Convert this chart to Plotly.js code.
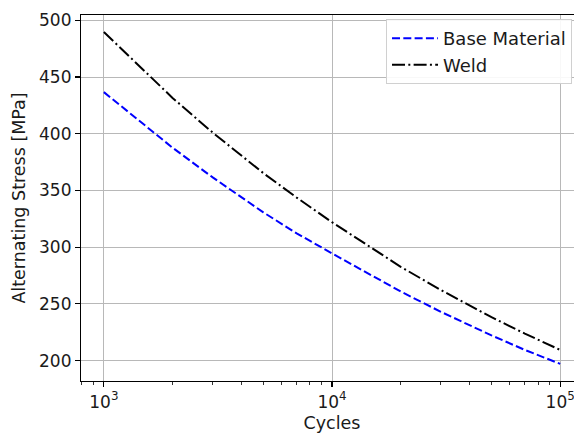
<!DOCTYPE html>
<html>
<head>
<meta charset="utf-8">
<script src="https://cdn.plot.ly/plotly-3.0.1.min.js"></script>
<style>
html,body{margin:0;padding:0;overflow:hidden;background:#fff;}
#chart{width:590px;height:433px;}
</style>
</head>
<body>
<div id="chart"></div>
<script>
const cycles = [1000, 2000, 3000, 5000, 7000, 10000, 20000, 30000, 50000, 70000, 100000];
const baseMaterial = [436.7, 387.7, 361.5, 330.7, 312.2, 294.5, 260.9, 243.0, 222.2, 209.4, 197.1];
const weld = [489.7, 431.6, 401.0, 365.3, 343.7, 322.0, 282.7, 262.2, 238.3, 223.8, 209.4];
const xTickVals = [1000, 10000, 100000];
const xTickText = ['10<sup>3</sup>', '10<sup>4</sup>', '10<sup>5</sup>'];
const xMinorVals = [800, 900, 2000, 3000, 4000, 5000, 6000, 7000, 8000, 9000,
  20000, 30000, 40000, 50000, 60000, 70000, 80000, 90000, 200000];
const yTickVals = [200, 250, 300, 350, 400, 450, 500];

const font = {family: 'DejaVu Sans, sans-serif', size: 17, color: '#1a1a1a'};

const traces = [
  {x: cycles, y: baseMaterial, name: 'Base Material', mode: 'lines',
   line: {color: '#0000ff', width: 2, dash: '8px,3.3px'}},
  {x: cycles, y: weld, name: 'Weld', mode: 'lines',
   line: {color: '#000000', width: 2, dash: '13px,3.3px,2px,3.3px'}}
];

const layout = {
  width: 590, height: 433,
  margin: {l: 81, r: 7, t: 15, b: 52},
  paper_bgcolor: '#fff', plot_bgcolor: '#fff',
  font: font,
  showlegend: true,
  legend: {x: 0.6076, y: 0.989, xanchor: 'left', yanchor: 'top',
    bgcolor: 'rgba(255,255,255,0.9)', bordercolor: '#d0d0d0', borderwidth: 1,
    itemwidth: 46,
    font: {family: 'DejaVu Sans, sans-serif', size: 18, color: '#1a1a1a'},
    tracegroupgap: 2},
  xaxis: {
    type: 'log', range: [Math.log10(794), Math.log10(125893)],
    tickmode: 'array', tickvals: xTickVals, ticktext: xTickText,
    ticks: 'outside', ticklen: 5, tickwidth: 1.1, tickcolor: '#000',
    showline: true, linecolor: '#000', linewidth: 1.1, mirror: true,
    showgrid: true, gridcolor: '#b8b8b8', gridwidth: 1,
    zeroline: false,
    minor: {tickmode: 'array', tickvals: xMinorVals, ticks: 'outside', ticklen: 3,
      tickwidth: 0.8, tickcolor: '#000', showgrid: false},
    tickfont: {family: 'DejaVu Sans, sans-serif', size: 17, color: '#1a1a1a'},
    title: {text: 'Cycles', font: {family: 'DejaVu Sans, sans-serif', size: 17.5, color: '#1a1a1a'}, standoff: 6}
  },
  yaxis: {
    range: [182, 504.7],
    tickmode: 'array', tickvals: yTickVals,
    ticks: 'outside', ticklen: 5, tickwidth: 1.1, tickcolor: '#000',
    showline: true, linecolor: '#000', linewidth: 1.1, mirror: true,
    showgrid: true, gridcolor: '#b8b8b8', gridwidth: 1,
    zeroline: false,
    tickfont: {family: 'DejaVu Sans, sans-serif', size: 17, color: '#1a1a1a'},
    title: {text: 'Alternating Stress [MPa]', font: {family: 'DejaVu Sans, sans-serif', size: 17.5, color: '#1a1a1a'}, standoff: 8}
  }
};

Plotly.newPlot('chart', traces, layout, {staticPlot: true, displayModeBar: false});
</script>
</body>
</html>
